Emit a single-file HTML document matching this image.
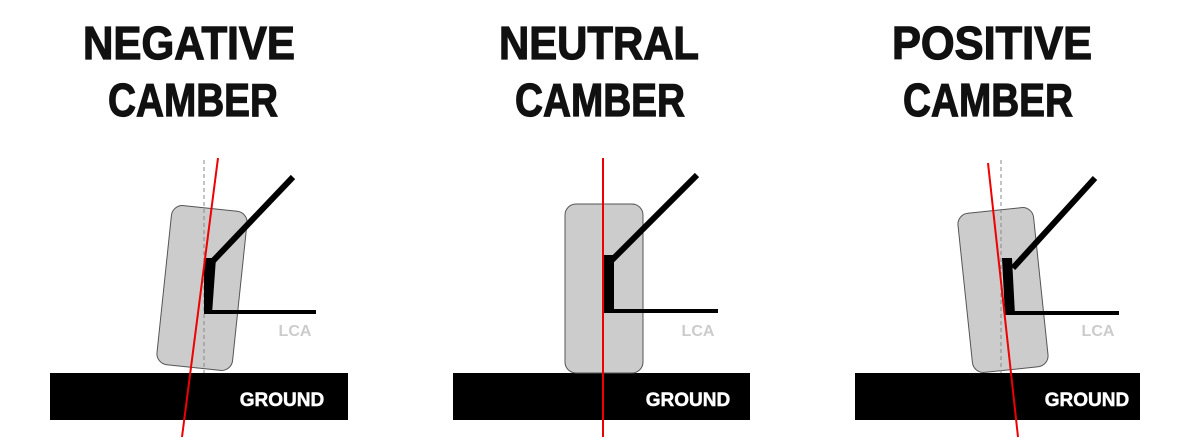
<!DOCTYPE html>
<html><head><meta charset="utf-8"><style>html,body{margin:0;padding:0;background:#fff}svg{display:block}</style></head>
<body>
<svg width="1200" height="443" viewBox="0 0 1200 443" xmlns="http://www.w3.org/2000/svg" font-family="Liberation Sans, sans-serif" font-weight="bold">
<g font-size="46" fill="#111" stroke="#111" stroke-width="1.2" text-anchor="middle">
<text x="189" y="59" textLength="212" lengthAdjust="spacingAndGlyphs">NEGATIVE</text>
<text x="193" y="116" textLength="170" lengthAdjust="spacingAndGlyphs">CAMBER</text>
<text x="599" y="59" textLength="200" lengthAdjust="spacingAndGlyphs">NEUTRAL</text>
<text x="600" y="116" textLength="170" lengthAdjust="spacingAndGlyphs">CAMBER</text>
<text x="992" y="59" textLength="200" lengthAdjust="spacingAndGlyphs">POSITIVE</text>
<text x="988" y="116" textLength="170" lengthAdjust="spacingAndGlyphs">CAMBER</text>
</g>

<!-- Negative -->
<rect x="50" y="373" width="298" height="47" fill="#000"/>
<rect x="164" y="208" width="76" height="160" rx="11" fill="#ccc" stroke="#555" stroke-width="1" transform="rotate(6 202 288)"/>
<line x1="204" y1="160" x2="204" y2="373" stroke="#888" stroke-width="1" stroke-dasharray="4 3"/>
<line x1="212" y1="262" x2="293" y2="177" stroke="#000" stroke-width="6"/>
<line x1="206" y1="312" x2="316" y2="312" stroke="#000" stroke-width="4"/>
<polygon points="204,258 216,258 212,314 204,314" fill="#000"/>
<line x1="218" y1="158" x2="182" y2="437" stroke="#e00" stroke-width="2"/>
<text x="295" y="336" font-size="16" fill="#ccc" text-anchor="middle">LCA</text>
<text x="282" y="406" font-size="19" fill="#fff" stroke="#fff" stroke-width="0.5" text-anchor="middle">GROUND</text>

<!-- Neutral -->
<rect x="453" y="373" width="297" height="47" fill="#000"/>
<rect x="565" y="204" width="78" height="169" rx="11" fill="#ccc" stroke="#555" stroke-width="1"/>
<line x1="612" y1="260" x2="697" y2="175" stroke="#000" stroke-width="6"/>
<line x1="606" y1="311" x2="718" y2="311" stroke="#000" stroke-width="4"/>
<rect x="604" y="255" width="10" height="58" fill="#000"/>
<line x1="603" y1="158" x2="603" y2="437" stroke="#e00" stroke-width="2"/>
<text x="698" y="336" font-size="16" fill="#ccc" text-anchor="middle">LCA</text>
<text x="688" y="406" font-size="19" fill="#fff" stroke="#fff" stroke-width="0.5" text-anchor="middle">GROUND</text>

<!-- Positive -->
<rect x="855" y="373" width="285" height="47" fill="#000"/>
<rect x="965" y="210" width="76" height="160" rx="11" fill="#ccc" stroke="#555" stroke-width="1" transform="rotate(-6 1003 290)"/>
<line x1="1001" y1="160" x2="1001" y2="373" stroke="#888" stroke-width="1" stroke-dasharray="4 3"/>
<line x1="1013" y1="268" x2="1095" y2="178" stroke="#000" stroke-width="6"/>
<line x1="1005" y1="313" x2="1119" y2="313" stroke="#000" stroke-width="4"/>
<polygon points="1002,258 1012,258 1015,315 1005,315" fill="#000"/>
<line x1="988" y1="163" x2="1018" y2="437" stroke="#e00" stroke-width="2"/>
<text x="1098" y="336" font-size="16" fill="#ccc" text-anchor="middle">LCA</text>
<text x="1087" y="406" font-size="19" fill="#fff" stroke="#fff" stroke-width="0.5" text-anchor="middle">GROUND</text>
</svg>
</body></html>
